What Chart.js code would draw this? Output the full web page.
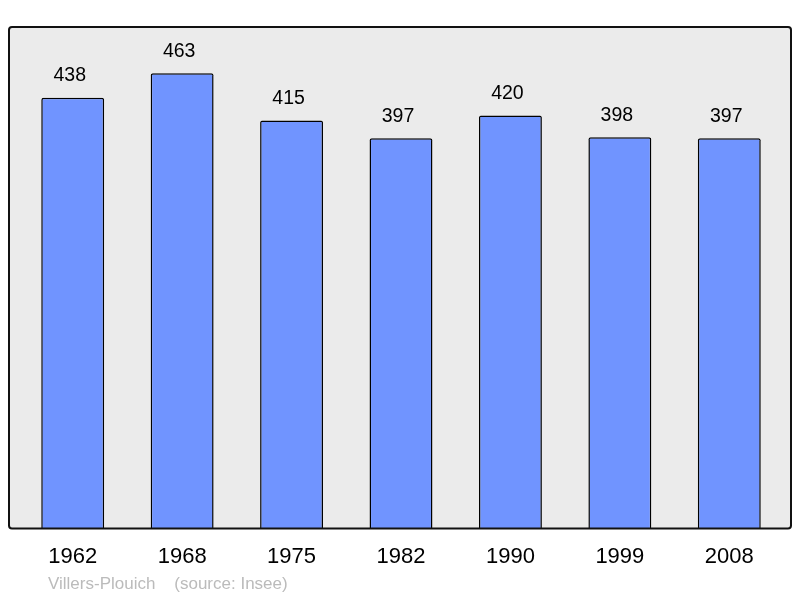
<!DOCTYPE html>
<html>
<head>
<meta charset="utf-8">
<script src="https://cdn.jsdelivr.net/npm/chart.js@4/dist/chart.umd.min.js"></script>
<style>
  body { margin: 0; background: #fff; }
</style>
</head>
<body>
<canvas id="chart" width="800" height="598"></canvas>
<script>
// Données
const years = ["1962", "1968", "1975", "1982", "1990", "1999", "2008"];
const population = [438, 463, 415, 397, 420, 398, 397];
const commune = "Villers-Plouich";
const source = "(source: Insee)";

const font = "'Liberation Sans', Arial, sans-serif";

// Fond gris + cadre, valeurs au-dessus des barres, pied de page
const decor = {
  id: "decor",
  beforeDatasetsDraw(chart) {
    const { ctx, chartArea: a } = chart;
    const x0 = a.left - 9, x1 = a.right + 7, y0 = a.top, y1 = a.bottom;
    ctx.save();
    ctx.beginPath();
    ctx.roundRect(x0, y0, x1 - x0, y1 - y0, 3);
    ctx.fillStyle = "#ebebeb";
    ctx.fill();
    ctx.restore();
  },
  afterDatasetsDraw(chart) {
    const { ctx, chartArea: a } = chart;
    const x0 = a.left - 9, x1 = a.right + 7, y0 = a.top, y1 = a.bottom;
    ctx.save();
    ctx.beginPath();
    ctx.roundRect(x0, y0, x1 - x0, y1 - y0, 3);
    ctx.lineWidth = 2;
    ctx.strokeStyle = "#111";
    ctx.stroke();

    ctx.fillStyle = "#000";
    ctx.font = "19.5px " + font;
    ctx.textAlign = "center";
    ctx.textBaseline = "middle";
    chart.getDatasetMeta(0).data.forEach((bar, i) => {
      ctx.fillText(population[i], bar.x - 3, bar.y - 22);
    });

    ctx.fillStyle = "#bbbbbb";
    ctx.font = "17px " + font;
    ctx.textAlign = "left";
    ctx.fillText(commune + "    " + source, 48, 584);
    ctx.restore();
  }
};

new Chart(document.getElementById("chart"), {
  type: "bar",
  data: {
    labels: years,
    datasets: [{
      data: population,
      backgroundColor: "#7094ff",
      borderColor: "#000",
      borderWidth: 1.5,
      borderRadius: 2,
      borderSkipped: "bottom",
      categoryPercentage: 1,
      barPercentage: 0.575
    }]
  },
  options: {
    responsive: false,
    animation: false,
    layout: { padding: { left: 18, right: 16, top: 27, bottom: 13 } },
    plugins: {
      legend: { display: false },
      tooltip: { enabled: false }
    },
    scales: {
      x: {
        grid: { display: false, drawTicks: false },
        border: { display: false },
        ticks: { color: "#000", font: { family: font, size: 22 }, padding: 15 }
      },
      y: {
        display: false,
        min: 0,
        max: 510
      }
    }
  },
  plugins: [decor]
});
</script>
</body>
</html>
